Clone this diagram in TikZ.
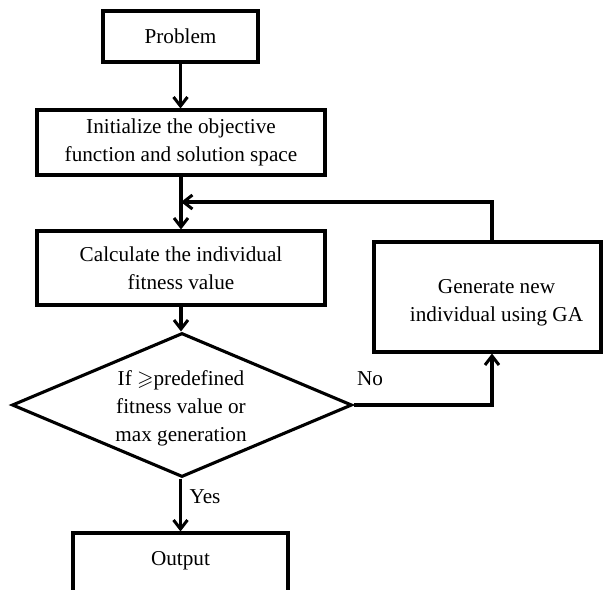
\documentclass[tikz,border=0pt]{standalone}
\usepackage{amssymb}
\usepackage{fontspec}
\setmainfont{Liberation Serif}
\usetikzlibrary{arrows.meta,shapes.geometric}
\begin{document}
\begin{tikzpicture}[x=1pt,y=-1pt,
  lw/.style={line width=3.1pt},
  box/.style={draw,lw,rectangle,inner sep=0pt},
  txt/.style={align=center,inner sep=0pt,font=\fontsize{21.2pt}{28pt}\selectfont},
  conn/.style={lw,-{Straight Barb[length=9pt,width=14pt,line width=3pt]}}]
\useasboundingbox (0,0) rectangle (604,589);
\clip (0,0) rectangle (604,589);
\fill[white] (0,0) rectangle (604,589);
% boxes
\node[box,txt,minimum width=155pt,minimum height=51pt] (prob) at (180.5,36.5) {Problem};
\node[box,txt,minimum width=288pt,minimum height=65pt] (init) at (181,142.5) {Initialize the objective\\function and solution space};
\node[box,txt,minimum width=288pt,minimum height=74pt] (calc) at (181,268) {Calculate the individual\\fitness value};
\node[draw,lw,diamond,inner sep=0pt,minimum width=340pt,minimum height=144pt] (dec) at (182,405) {};
\node[txt] (dect) at (181,408) {If $\geqslant$predefined\\fitness value or\\max generation};
\node[box,minimum width=227pt,minimum height=110pt] (gen) at (487.5,297) {};
\node[txt] (gent) at (496.5,302.5) {Generate new\\individual using GA};
\node[box,minimum width=215pt,minimum height=70pt] (out) at (180.5,568) {};
\node[txt] (outt) at (180.5,561) {Output};
% labels
\node[txt] (no) at (370,379) {No};
\node[txt] (yes) at (205,497) {Yes};
% connectors
\coordinate (lp) at (492,202);
\draw[conn] (prob.south) -- (prob.south |- init.north);
\draw[conn] (init.south) -- (calc.north -| init.south);
\draw[conn] (gen.north -| lp) -- (lp) -- (init.south |- lp);
\draw[conn] (calc.south -| init.south) -- (dec.north -| init.south);
\draw[conn] (dec.east) -| (gen.south -| lp);
\draw[conn] (dec.south -| outt) -- (out.north);
\end{tikzpicture}
\end{document}
